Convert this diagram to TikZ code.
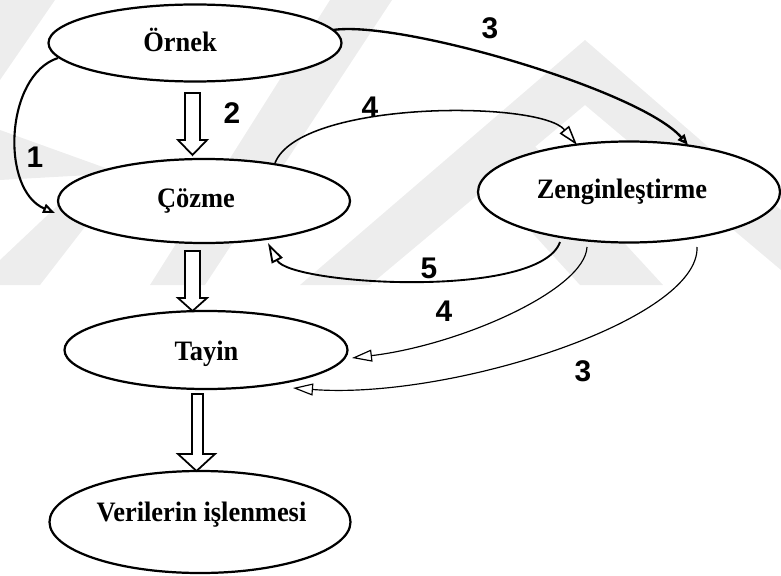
\documentclass[tikz,border=0pt]{standalone}
\usepackage{fontspec}
\setmainfont{Liberation Serif}
\newfontfamily\stagefont{Liberation Serif}[FakeStretch=0.94]
\newfontfamily\labfont{Liberation Sans}
\usetikzlibrary{shapes.geometric,arrows.meta,calc}
\begin{document}
\begin{tikzpicture}[x=0.3mm,y=-0.3mm,
  stage/.style={draw,ellipse,line width=1.9pt,fill=white,inner sep=0pt},
  stagetext/.style={anchor=base,inner sep=0pt,
    font=\stagefont\fontsize{24}{27}\selectfont\bfseries},
  lab/.style={font=\labfont\fontsize{25.5}{28}\selectfont\bfseries,inner sep=0pt},
  blockarrow/.style={draw,line width=1.5pt,fill=white,line join=miter},
  bighead/.style={-{Triangle[open,length=6mm,width=3.6mm]}},
  smallhead/.style={-{Triangle[open,length=3.6mm,width=2.8mm]}},
  wm/.style={fill=black!7,draw=none}]
\useasboundingbox (0,0) rectangle (781,576);
% faint watermark
\begin{scope}
\clip (0,0) rectangle (781,285);
\fill[wm] (0,0) -- (55,0) -- (0,80) -- cycle;
\fill[wm] (0,130) -- (0,180) -- (90,175) -- (0,260) -- (0,285) -- (40,285) -- (125,175) -- cycle;
\fill[wm] (150,285) -- (205,285) -- (392,0) -- (330,0) -- cycle;
\fill[wm] (300,285) -- (585,40) -- (781,210) -- (781,270) -- (585,105) -- (370,285) -- cycle;
\fill[wm] (470,165) -- (520,130) -- (663,285) -- (580,285) -- cycle;
\end{scope}
% stages
\node[stage,minimum width=293*0.3mm,minimum height=77*0.3mm] (ornek) at (195,43) {};
\node[stage,minimum width=292*0.3mm,minimum height=84*0.3mm] (cozme) at (204,201) {};
\node[stage,minimum width=302*0.3mm,minimum height=101*0.3mm] (zen) at (629,192) {};
\node[stage,minimum width=283*0.3mm,minimum height=78*0.3mm] (tayin) at (206,350) {};
\node[stage,minimum width=301*0.3mm,minimum height=102*0.3mm] (ver) at (200,522) {};
\node[stagetext] (ornekT) at (180,52) {Örnek};
\node[stagetext] (cozmeT) at (196,207) {Çözme};
\node[stagetext] (zenT) at (622,199) {Zenginleştirme};
\node[stagetext] (tayinT) at (206.5,360) {Tayin};
\node[stagetext] (verT) at (201.5,521) {Verilerin işlenmesi};
% block arrows
\draw[blockarrow] (185,93) -- (185,140) -- (178,140) -- (192.5,155) -- (207,140) -- (200,140) -- (200,93) -- cycle;
\draw[blockarrow] (185,251) -- (185,298) -- (178,298) -- (192.5,311) -- (207,298) -- (200,298) -- (200,251) -- cycle;
\draw[blockarrow] (192,394) -- (192,454) -- (178,454) -- (196.5,471) -- (215,454) -- (203,454) -- (203,394) -- cycle;
% end points of the connectors, relative to the stage centres
\coordinate (o1) at ($(ornek.center)+(-137,15)$);
\coordinate (o2) at ($(ornek.center)+(138,-13)$);
\coordinate (c1) at ($(cozme.center)+(-149,12)$);
\coordinate (c2) at ($(cozme.center)+(71,-38)$);
\coordinate (c3) at ($(cozme.center)+(64,42)$);
\coordinate (z1) at ($(zen.center)+(-52,-47)$);
\coordinate (z2) at ($(zen.center)+(59,-47)$);
\coordinate (z3) at ($(zen.center)+(-69,50)$);
\coordinate (z4) at ($(zen.center)+(-42,55)$);
\coordinate (z5) at ($(zen.center)+(68,55)$);
\coordinate (t1) at ($(tayin.center)+(146,8)$);
\coordinate (t2) at ($(tayin.center)+(87,38)$);
% connectors
\draw[line width=1.8pt,smallhead] (o1) .. controls (5,75) and (0,190) .. (c1);
\draw[line width=2pt,-{Triangle[open,length=3.2mm,width=2.6mm]}] (o2) .. controls (400,20) and (640,90) .. (z2);
\draw[line width=1.3pt,bighead] (c2) .. controls (300,100) and (540,100) .. (z1);
\draw[line width=1.6pt,bighead] (z3) .. controls (540,300) and (290,285) .. (c3);
\draw[line width=1pt,bighead] (z4) .. controls (585,290) and (460,345) .. (t1);
\draw[line width=1pt,bighead] (z5) .. controls (700,320) and (450,400) .. (t2);
% labels
\node[lab] (l1) at (35,157) {1};
\node[lab] (l2) at (232,113) {2};
\node[lab] (l3a) at (490,28) {3};
\node[lab] (l4a) at (370,107) {4};
\node[lab] (l5) at (429,268) {5};
\node[lab] (l4b) at (444,311) {4};
\node[lab] (l3b) at (583,371) {3};
\end{tikzpicture}
\end{document}
